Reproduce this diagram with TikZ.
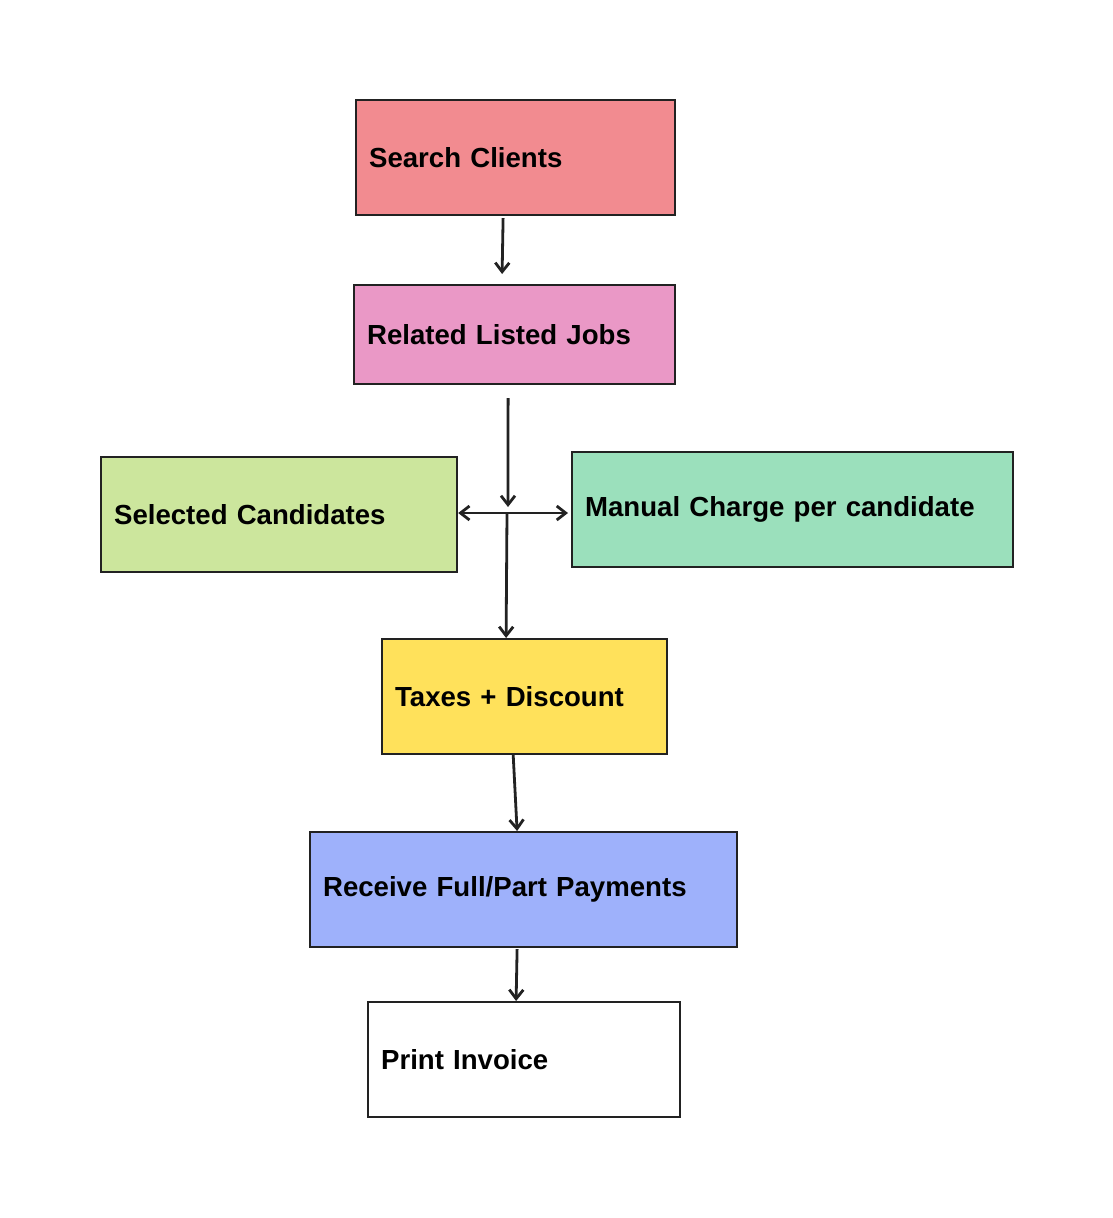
\documentclass[tikz,border=0pt]{standalone}
\usepackage{fontspec}
\setmainfont{Liberation Sans}
\usetikzlibrary{arrows.meta,calc}
\definecolor{cSearch}{HTML}{F28B90}
\definecolor{cRelated}{HTML}{EA98C6}
\definecolor{cSelected}{HTML}{CCE69D}
\definecolor{cManual}{HTML}{9BE0BC}
\definecolor{cTaxes}{HTML}{FFE15B}
\definecolor{cReceive}{HTML}{9EB1FB}
\definecolor{cStroke}{HTML}{222222}
\tikzset{
  box/.style={draw=cStroke, line width=2.2pt, rectangle, anchor=north west,
    inner xsep=13pt, inner ysep=0pt, align=left,
    font=\fontsize{27.6}{32}\selectfont\bfseries},
  arr/.style={draw=cStroke, line width=2.8pt, -{Straight Barb[length=9pt,width=14pt,line width=2.8pt]}},
}
\newcommand{\boxnode}[7]{%
  \node[box, fill=#7, minimum width=#4pt, minimum height=#5pt, text width={#4pt-26pt}] (#1) at (#2,#3) {#6};}
\begin{document}
\begin{tikzpicture}[x=1pt,y=-1pt]
\useasboundingbox (1,1) rectangle (1114,1219);
\fill[white] (1,1) rectangle (1114,1219);
\boxnode{search}{356}{100}{319}{115}{Search Clients}{cSearch}
\boxnode{related}{354}{285}{321}{99}{Related Listed Jobs}{cRelated}
\boxnode{selected}{101}{457}{356}{115}{Selected Candidates}{cSelected}
\boxnode{manual}{572}{452}{441}{115}{Manual Charge per candidate}{cManual}
\boxnode{taxes}{382}{639}{285}{115}{Taxes + Discount}{cTaxes}
\boxnode{receive}{310}{832}{427}{115}{Receive Full/Part Payments}{cReceive}
\boxnode{print}{368}{1002}{312}{115}{Print Invoice}{white}
\coordinate (J) at (508,514);
\coordinate (Jtop) at (509,508);
\draw[arr] ($(search.south)+(-12.5,2)$) -- ($(related.north)+(-12.5,-10)$);
\draw[arr] ($(related.south)+(-6.5,13)$) -- (Jtop);
\draw[arr] (J) -- (selected.east |- J);
\draw[arr] (J) -- ($(manual.west |- J)+(-3,0)$);
\draw[arr] (J) -- ($(taxes.north)+(-18.5,0)$);
\draw[arr] ($(taxes.south)+(-11.5,-2)$) -- ($(receive.north)+(-6.5,0)$);
\draw[arr] ($(receive.south)+(-6.5,1)$) -- ($(print.north)+(-8,0)$);
\end{tikzpicture}
\end{document}
